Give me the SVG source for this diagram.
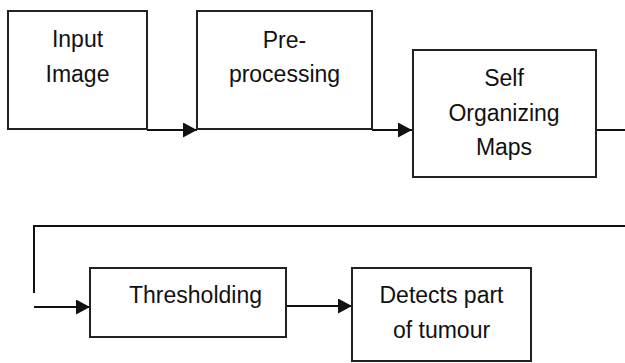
<svg xmlns="http://www.w3.org/2000/svg" width="625" height="363" viewBox="0 0 625 363">
<defs>
<style>
.box{fill:#fff;stroke:#222;stroke-width:2}
.lbl{font-family:"Liberation Sans",Arial,sans-serif;font-size:23px;fill:#111;text-anchor:middle}
.wire{fill:none;stroke:#111;stroke-width:2}
</style>
<marker id="ah" markerWidth="14" markerHeight="15" refX="14" refY="7.5" orient="auto" markerUnits="userSpaceOnUse">
<path d="M0,0 L14,7.5 L0,15 Z" fill="#111"/>
</marker>
</defs>
<rect width="625" height="363" fill="#fff"/>
<g id="connectors">
<path class="wire" d="M147,130 H197" marker-end="url(#ah)"/>
<path class="wire" d="M372,130 H412" marker-end="url(#ah)"/>
<path class="wire" d="M596,130 H625"/>
<path class="wire" d="M625,226 H34 V293"/>
<path class="wire" d="M34,307 H90" marker-end="url(#ah)"/>
<path class="wire" d="M286,306 H352" marker-end="url(#ah)"/>
</g>
<g id="input-image">
<rect class="box" x="8" y="11" width="139" height="118"/>
<text class="lbl" x="77.5" y="47">Input</text>
<text class="lbl" x="77.5" y="82">Image</text>
</g>
<g id="pre-processing">
<rect class="box" x="197" y="11" width="175" height="118"/>
<text class="lbl" x="284.5" y="48">Pre-</text>
<text class="lbl" x="284.5" y="82">processing</text>
</g>
<g id="som">
<rect class="box" x="413" y="50" width="183" height="127"/>
<text class="lbl" x="504" y="86">Self</text>
<text class="lbl" x="504" y="121">Organizing</text>
<text class="lbl" x="504" y="155">Maps</text>
</g>
<g id="thresholding">
<rect class="box" x="90" y="268" width="196" height="69"/>
<text class="lbl" x="195.5" y="303">Thresholding</text>
</g>
<g id="detects">
<rect class="box" x="352" y="268" width="179" height="93"/>
<text class="lbl" x="441.5" y="303">Detects part</text>
<text class="lbl" x="441.5" y="338">of tumour</text>
</g>
</svg>
